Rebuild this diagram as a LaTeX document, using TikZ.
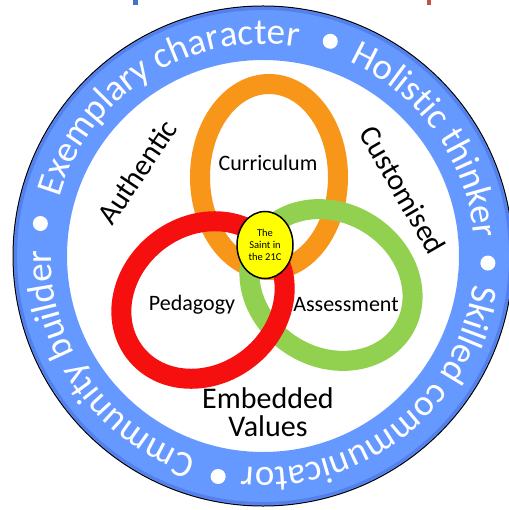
\documentclass[tikz,border=0pt]{standalone}
\usepackage{fontspec}
\setmainfont{Carlito}
\usetikzlibrary{decorations.text,shapes.geometric}

\definecolor{ringblue}{RGB}{102,153,255}
\definecolor{ringedge}{RGB}{84,128,236}
\definecolor{ringorange}{RGB}{248,150,25}
\definecolor{ringred}{RGB}{245,15,15}
\definecolor{ringgreen}{RGB}{146,208,80}
\definecolor{hubyellow}{RGB}{255,255,0}
\definecolor{titleblue}{RGB}{70,114,196}
\definecolor{titlered}{RGB}{192,80,77}

\newcommand\ringtextfont{\fontsize{37}{37}\selectfont\color{white}}

\begin{document}
\begin{tikzpicture}[x=1pt,y=-1pt,
  band/.style={line width=20pt},
  inlabel/.style={font=\fontsize{22}{22}\selectfont, text=black, inner sep=0pt},
  biglabel/.style={font=\fontsize{30}{28}\selectfont, text=black, inner sep=0pt, align=center},
  hub/.style={ellipse, draw=black, line width=1.5pt, fill=hubyellow, minimum width=56pt,
    minimum height=67pt, inner sep=0pt, align=center, font=\fontsize{10.5}{12}\selectfont},
  ringword/.style={decorate, decoration={text along path, text align=center,
    text={|\ringtextfont|#1}}},
  ringdot/.style={fill=white}]

\useasboundingbox (0,0) rectangle (508,510);
\fill[white] (0,0) rectangle (508,510);

% ends of the title bar, cut by the page edge
\fill[titleblue] (133,0) rectangle (138,5);
\fill[titlered] (427,0) rectangle (431,5);

% outer blue ring
\coordinate (c) at (263,256);
\fill[ringblue, even odd rule] (c) circle[radius=250pt] (c) circle[radius=196pt];
\draw[ringedge, line width=3pt] (c) circle[radius=247.5pt];
\draw[black, line width=1pt] (c) circle[radius=250pt];

% words and bullets around the ring
\begin{scope}[shift={(c)}, y=1pt]
  \path[ringword=Exemplary character] (170.2:212pt) arc[start angle=170.2, end angle=74.2, radius=212pt];
  \path[ringword=Holistic thinker] (83.4:212pt) arc[start angle=83.4, end angle=-12.6, radius=212pt];
  \path[ringword=Skilled communicator] (-3.7:212pt) arc[start angle=-3.7, end angle=-99.7, radius=212pt];
  \path[ringword=Cmmunity builder] (-96.9:212pt) arc[start angle=-96.9, end angle=-192.9, radius=212pt];
  \fill[ringdot] (171.7:225pt) circle[radius=7.5pt];
  \fill[ringdot] (72.6:225pt) circle[radius=7.5pt];
  \fill[ringdot] (-1.8:225pt) circle[radius=7.5pt];
  \fill[ringdot] (-101.5:225pt) circle[radius=7.5pt];
\end{scope}

% three interlaced rings
\draw[band, ringorange] (269,177) ellipse[x radius=69pt, y radius=93pt];
\draw[band, ringgreen, rotate around={-32:(331,285)}] (331,285) ellipse[x radius=85pt, y radius=72pt];
\draw[band, ringred, rotate around={38:(203,300)}] (203,300) ellipse[x radius=86pt, y radius=74pt];

% centre hub
\node[hub] (hubnode) at (265,245) {The\\Saint in\\the 21C};

% ring labels
\node[inlabel] (curr) at (268,163) {Curriculum};
\node[inlabel] (ped) at (192,305) {Pedagogy};
\node[inlabel] (ass) at (346,305) {Assessment};

% surrounding qualities
\node[biglabel, rotate=56] (auth) at (137,172) {Authentic};
\node[biglabel, rotate=-60] (cust) at (403,190) {Customised};
\node[biglabel] (emb) at (268,412) {Embedded\\Values};
\end{tikzpicture}
\end{document}
